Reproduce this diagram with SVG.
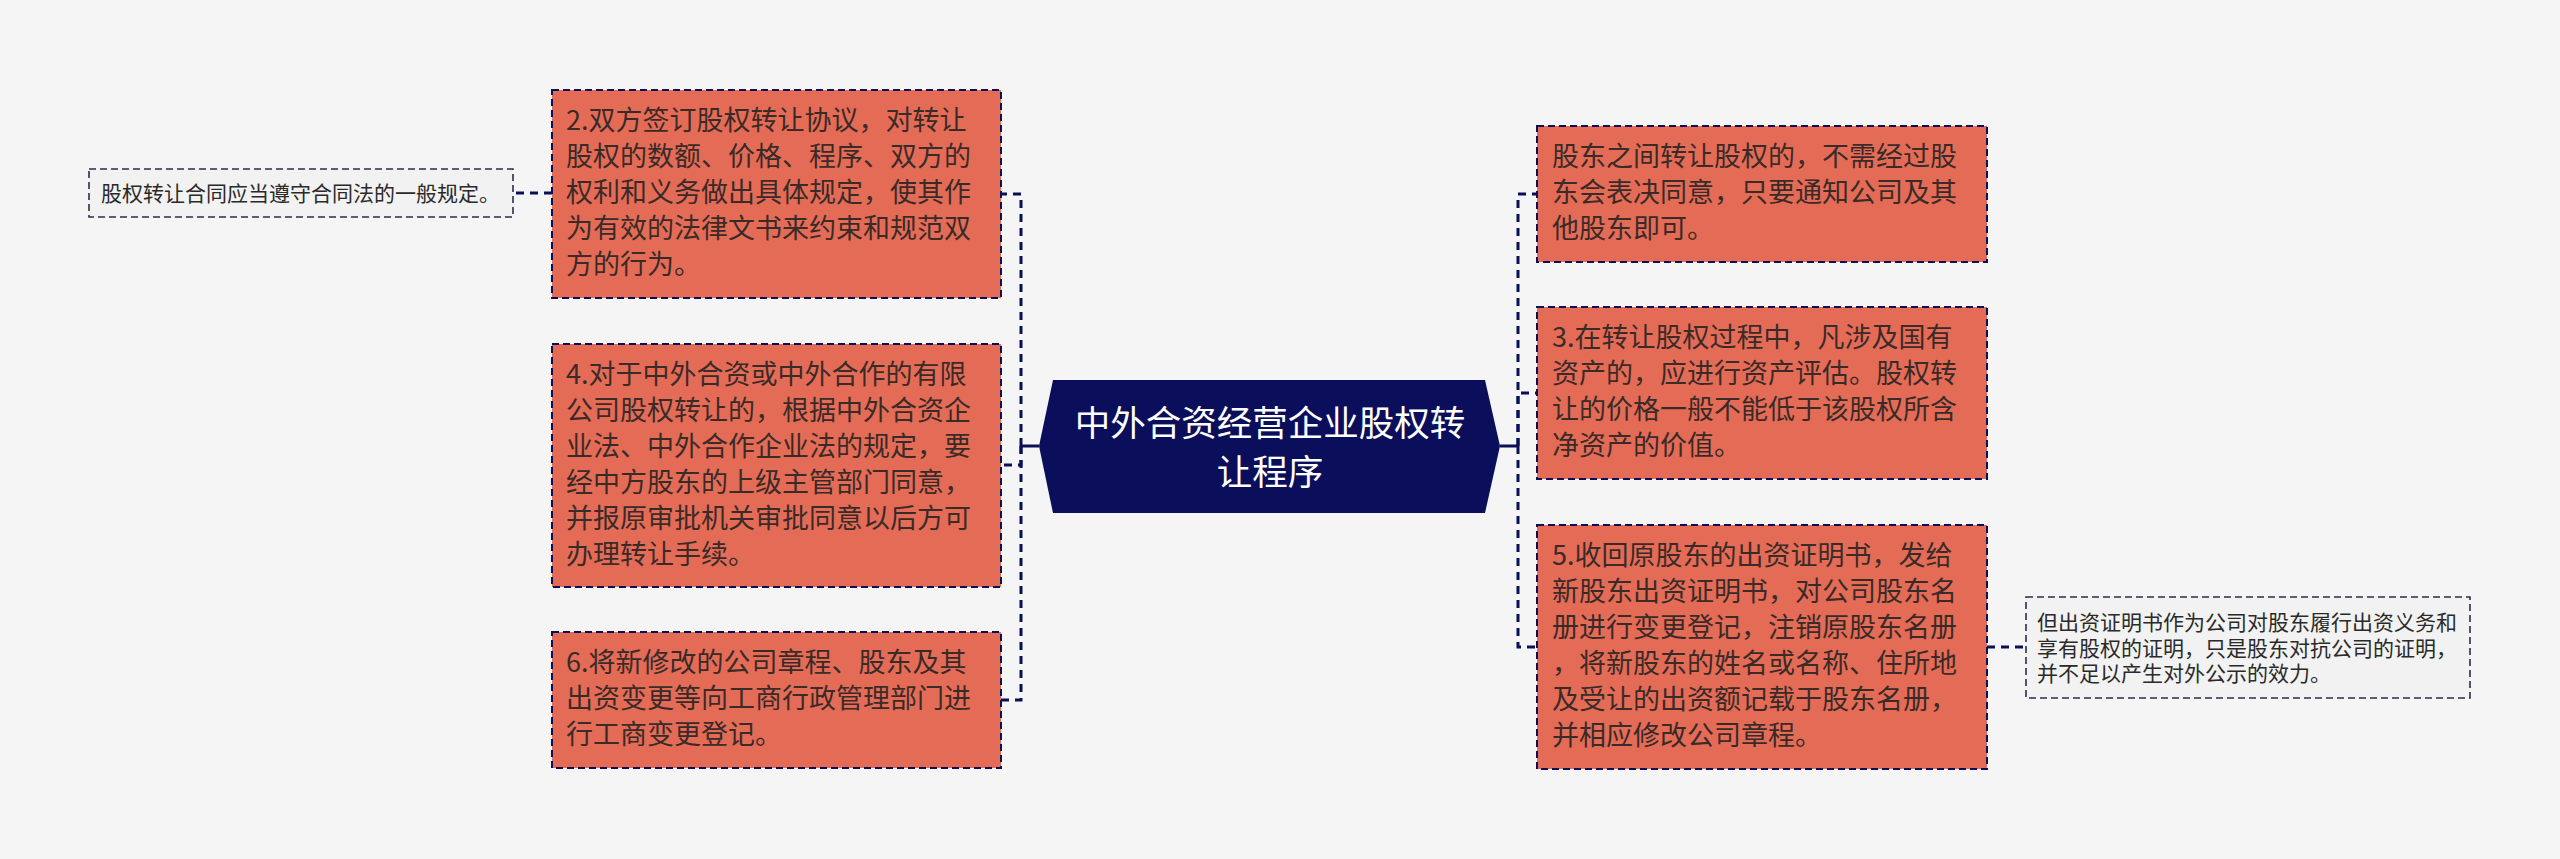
<svg xmlns="http://www.w3.org/2000/svg" width="2560" height="859" viewBox="0 0 2560 859">
<style>
.bg{fill:#f5f5f5}
.box{fill:#e46c57;stroke:#0b0f55;stroke-width:2;stroke-dasharray:7 4}
.leaf{fill:#f2f2f2;stroke:#2a2d4a;stroke-width:1.6;stroke-dasharray:7 4}
.t{font-family:"Noto Sans CJK SC","Noto Sans",sans-serif;font-size:27px;fill:#3a2a28}
.lt{font-family:"Noto Sans CJK SC","Noto Sans",sans-serif;font-size:21px;fill:#2a2a2a}
.ct{font-family:"Noto Sans CJK SC","Noto Sans",sans-serif;font-size:35.5px;fill:#ffffff}
.c{fill:none;stroke:#0b0f55;stroke-width:3;stroke-dasharray:8 6}
.s{fill:none;stroke:#0b0f55;stroke-width:3}
</style>
<rect class="bg" x="0" y="0" width="2560" height="859"/>
<g id="connectors">
<path class="s" d="M1039 446 H1021"/>
<path class="s" d="M1500 446 H1518"/>
<path class="c" d="M1021 446 V194 H1001"/>
<path class="c" d="M1021 446 V465 H1001"/>
<path class="c" d="M1021 446 V700 H1001"/>
<path class="c" d="M1518 446 V194 H1537"/>
<path class="c" d="M1518 446 V393 H1537"/>
<path class="c" d="M1518 446 V647 H1537"/>
<path class="c" d="M552 193 H513"/>
<path class="c" d="M1987 647 H2026"/>
</g>
<g id="center">
<polygon points="1053,380 1485,380 1500,446 1485,513 1053,513 1039,446" fill="#0b0f5b"/>
<text class="ct" x="1270" y="436" text-anchor="middle">中外合资经营企业股权转</text>
<text class="ct" x="1270" y="485" text-anchor="middle">让程序</text>
</g>
<g id="n2">
<rect class="box" x="552" y="90" width="449" height="208"/>
<text class="t" x="566" y="130">2.双方签订股权转让协议，对转让</text>
<text class="t" x="566" y="166">股权的数额、价格、程序、双方的</text>
<text class="t" x="566" y="202">权利和义务做出具体规定，使其作</text>
<text class="t" x="566" y="238">为有效的法律文书来约束和规范双</text>
<text class="t" x="566" y="274">方的行为。</text>
</g>
<g id="leaf2">
<rect class="leaf" x="89" y="169" width="424" height="48"/>
<text class="lt" x="101" y="201">股权转让合同应当遵守合同法的一般规定。</text>
</g>
<g id="n4">
<rect class="box" x="552" y="344" width="449" height="243"/>
<text class="t" x="566" y="384">4.对于中外合资或中外合作的有限</text>
<text class="t" x="566" y="420">公司股权转让的，根据中外合资企</text>
<text class="t" x="566" y="456">业法、中外合作企业法的规定，要</text>
<text class="t" x="566" y="492">经中方股东的上级主管部门同意，</text>
<text class="t" x="566" y="528">并报原审批机关审批同意以后方可</text>
<text class="t" x="566" y="564">办理转让手续。</text>
</g>
<g id="n6">
<rect class="box" x="552" y="632" width="449" height="136"/>
<text class="t" x="566" y="672">6.将新修改的公司章程、股东及其</text>
<text class="t" x="566" y="708">出资变更等向工商行政管理部门进</text>
<text class="t" x="566" y="744">行工商变更登记。</text>
</g>
<g id="n1">
<rect class="box" x="1537" y="126" width="450" height="136"/>
<text class="t" x="1552" y="166">股东之间转让股权的，不需经过股</text>
<text class="t" x="1552" y="202">东会表决同意，只要通知公司及其</text>
<text class="t" x="1552" y="238">他股东即可。</text>
</g>
<g id="n3">
<rect class="box" x="1537" y="307" width="450" height="172"/>
<text class="t" x="1552" y="347">3.在转让股权过程中，凡涉及国有</text>
<text class="t" x="1552" y="383">资产的，应进行资产评估。股权转</text>
<text class="t" x="1552" y="419">让的价格一般不能低于该股权所含</text>
<text class="t" x="1552" y="455">净资产的价值。</text>
</g>
<g id="n5">
<rect class="box" x="1537" y="525" width="450" height="244"/>
<text class="t" x="1552" y="565">5.收回原股东的出资证明书，发给</text>
<text class="t" x="1552" y="601">新股东出资证明书，对公司股东名</text>
<text class="t" x="1552" y="637">册进行变更登记，注销原股东名册</text>
<text class="t" x="1552" y="673">，将新股东的姓名或名称、住所地</text>
<text class="t" x="1552" y="709">及受让的出资额记载于股东名册，</text>
<text class="t" x="1552" y="745">并相应修改公司章程。</text>
</g>
<g id="leaf5">
<rect class="leaf" x="2026" y="597" width="444" height="101"/>
<text class="lt" x="2037" y="630">但出资证明书作为公司对股东履行出资义务和</text>
<text class="lt" x="2037" y="656">享有股权的证明，只是股东对抗公司的证明，</text>
<text class="lt" x="2037" y="681">并不足以产生对外公示的效力。</text>
</g>
</svg>
